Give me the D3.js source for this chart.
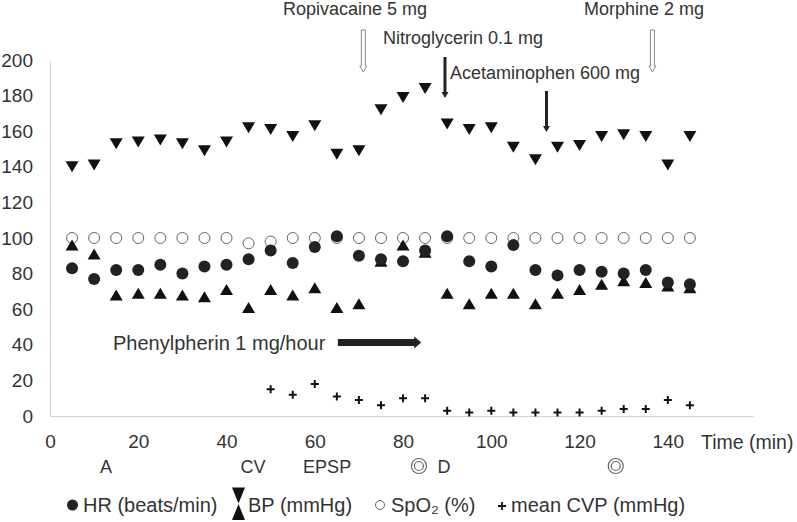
<!DOCTYPE html>
<html>
<head>
<meta charset="utf-8">
<script src="https://cdn.jsdelivr.net/npm/d3@7"></script>
<style>
    body { margin: 0; background: #fff; }
    #chart text { font-family: "Liberation Sans", Arial, sans-serif; fill: #333; }
</style>
</head>
<body>
<div id="chart"></div>
<script>
let times = [5, 10, 15, 20, 25, 30, 35, 40, 45, 50, 55, 60, 65, 70, 75, 80, 85, 90, 95, 100, 105, 110, 115, 120, 125, 130, 135, 140, 145];
let hr = [83, 77, 82, 82, 85, 80, 84, 85, 88, 93, 86, 95, 101, 90, 88, 87, 93, 101, 87, 84, 96, 82, 79, 82, 81, 80, 82, 75, 74];
let bp_sys = [140, 141, 153, 154, 155, 153, 149, 154, 162, 161, 157, 163, 147, 149, 172, 179, 184, 164, 161, 162, 151, 144, 151, 152, 157, 158, 157, 141, 157];
let bp_dia = [96, 91, 68, 69, 69, 68, 67, 71, 61, 71, 68, 72, 61, 63, 87, 96, 92, 69, 63, 69, 69, 63, 69, 71, 74, 76, 75, 73, 72];
let spo2 = [100, 100, 100, 100, 100, 100, 100, 100, 97, 98, 100, 100, 100, 100, 100, 100, 100, 100, 100, 100, 100, 100, 100, 100, 100, 100, 100, 100, 100];
let cvp_times = [50, 55, 60, 65, 70, 75, 80, 85, 90, 95, 100, 105, 110, 115, 120, 125, 130, 135, 140, 145];
let cvp = [15, 12, 18, 11, 9, 6, 10, 10, 3, 2, 3, 2, 2, 2, 2, 3, 4, 4, 9, 6];

let x_ticks = [0, 20, 40, 60, 80, 100, 120, 140];
let y_ticks = [0, 20, 40, 60, 80, 100, 120, 140, 160, 180, 200];

// drugs given: label, time of arrow, arrow style
let bolus = [
    { label: "Ropivacaine 5 mg", time: 71, hollow: true },
    { label: "Nitroglycerin 0.1 mg", time: 89.5, hollow: false },
    { label: "Acetaminophen 600 mg", time: 112.5, hollow: false },
    { label: "Morphine 2 mg", time: 136.5, hollow: true }
];
let infusion = { label: "Phenylpherin 1 mg/hour", start: 65, end: 84 };

// events under the time axis
let events = [
    { label: "A", time: 12.7 },
    { label: "CV", time: 46 },
    { label: "EPSP", time: 62.8 },
    { label: "D", time: 89.3 }
];
let ring_times = [83.6, 128.2];

document.addEventListener("DOMContentLoaded", function(event) {

    let svg = d3.select("#chart")
        .append("svg")
            .attr("width", 797)
            .attr("height", 522);

    let x = d3.scaleLinear().domain([0, 159.3]).range([50, 753]);
    let y = d3.scaleLinear().domain([0, 200]).range([416, 60]);

    let xa = svg.append("g")
        .attr("transform", "translate(0,416)")
        .call(d3.axisBottom(x).tickValues(x_ticks).tickSize(0).tickPadding(19));
    xa.select(".domain").attr("stroke", "#d4d4d4");
    xa.selectAll("text").style("font-size", "19px");

    let ya = svg.append("g")
        .attr("transform", "translate(50,0)")
        .call(d3.axisLeft(y).tickValues(y_ticks).tickSize(0).tickPadding(17));
    ya.select(".domain").attr("stroke", "#d4d4d4");
    ya.selectAll("text").style("font-size", "19px");

    svg.append("text")
        .attr("x", 701)
        .attr("y", 448.5)
        .style("font-size", "19.5px")
        .text("Time (min)");

    // triangle path centred on its box, w wide and h tall
    let tri = function (w, h, down) {
        let s = down ? 1 : -1;
        return "M" + (-w / 2) + "," + (-s * h / 2) + "L" + (w / 2) + "," + (-s * h / 2) + "L0," + (s * h / 2) + "Z";
    };

    let rows = times.map((t, i) => ({ t: t, hr: hr[i], sys: bp_sys[i], dia: bp_dia[i], spo2: spo2[i] }));

    svg.append("g").selectAll("circle")
        .data(rows)
        .enter()
        .append("circle")
            .attr("cx", d => x(d.t))
            .attr("cy", d => y(d.spo2))
            .attr("r", 5.5)
            .attr("fill", "none")
            .attr("stroke", "#666")
            .attr("stroke-width", 1);

    svg.append("g").selectAll("path")
        .data(rows)
        .enter()
        .append("path")
            .attr("transform", d => "translate(" + x(d.t) + "," + y(d.sys) + ")")
            .attr("d", tri(13, 11, true))
            .attr("fill", "#111");

    svg.append("g").selectAll("path")
        .data(rows)
        .enter()
        .append("path")
            .attr("transform", d => "translate(" + x(d.t) + "," + y(d.dia) + ")")
            .attr("d", tri(13, 11, false))
            .attr("fill", "#111");

    svg.append("g").selectAll("circle")
        .data(rows)
        .enter()
        .append("circle")
            .attr("cx", d => x(d.t))
            .attr("cy", d => y(d.hr))
            .attr("r", 6)
            .attr("fill", "#222");

    let cvp_rows = cvp_times.map((t, i) => ({ t: t, v: cvp[i] }));
    svg.append("g").selectAll("path")
        .data(cvp_rows)
        .enter()
        .append("path")
            .attr("transform", d => "translate(" + x(d.t) + "," + y(d.v) + ")")
            .attr("d", "M-4,0H4M0,-4V4")
            .attr("stroke", "#111")
            .attr("stroke-width", 2);

    // bolus arrows + labels
    let label_pos = [
        { tx: 283, ty: 15, top: 30, bottom: 72 },
        { tx: 383, ty: 43.5, top: 57, bottom: 98 },
        { tx: 450, ty: 78.5, top: 91, bottom: 132 },
        { tx: 584, ty: 15, top: 30, bottom: 72 }
    ];
    bolus.forEach(function (b, i) {
        let p = label_pos[i];
        let ax = x(b.time);
        svg.append("text")
            .attr("x", p.tx)
            .attr("y", p.ty)
            .style("font-size", "18px")
            .text(b.label);
        if (b.hollow) {
            let hb = p.bottom - 6;
            svg.append("path")
                .attr("d", "M" + (ax - 2) + "," + p.top + "H" + (ax + 2) + "V" + hb + "H" + (ax + 3.5)
                    + "L" + ax + "," + p.bottom + "L" + (ax - 3.5) + "," + hb + "H" + (ax - 2) + "Z")
                .attr("fill", "#fff")
                .attr("stroke", "#888")
                .attr("stroke-width", 1);
        } else {
            svg.append("line")
                .attr("x1", ax).attr("x2", ax)
                .attr("y1", p.top).attr("y2", p.bottom - 5)
                .attr("stroke", "#222")
                .attr("stroke-width", 3);
            svg.append("path")
                .attr("d", "M" + (ax - 3.5) + "," + (p.bottom - 6) + "H" + (ax + 3.5) + "L" + ax + "," + p.bottom + "Z")
                .attr("fill", "#222");
        }
    });

    // infusion arrow
    let iy = 342.5;
    svg.append("text")
        .attr("x", 113)
        .attr("y", 349.5)
        .style("font-size", "20px")
        .text(infusion.label);
    let x0 = x(infusion.start) + 1, x1 = x(infusion.end) + 0.5;
    svg.append("path")
        .attr("d", "M" + x0 + "," + (iy - 3.5) + "H" + (x1 - 7) + "V" + (iy - 6) + "L" + x1 + "," + iy
            + "L" + (x1 - 7) + "," + (iy + 6) + "V" + (iy + 3.5) + "H" + x0 + "Z")
        .attr("fill", "#222");

    svg.append("g").selectAll("text")
        .data(events)
        .enter()
        .append("text")
            .attr("x", d => x(d.time))
            .attr("y", 473)
            .attr("text-anchor", "middle")
            .style("font-size", "18px")
            .text(d => d.label);

    // double rings in the event row
    ring_times.forEach(function (t) {
        [7.5, 4.5].forEach(function (r) {
            svg.append("circle")
                .attr("cx", x(t))
                .attr("cy", 466)
                .attr("r", r)
                .attr("fill", "none")
                .attr("stroke", "#666")
                .attr("stroke-width", 1.2);
        });
    });

    // legend
    let lg = svg.append("g").attr("transform", "translate(0,505)");
    lg.append("circle").attr("cx", 72.5).attr("cy", 0).attr("r", 5.5).attr("fill", "#222");
    lg.append("text").attr("x", 83).attr("y", 7).style("font-size", "20px").text("HR (beats/min)");
    lg.append("path").attr("transform", "translate(238.5,-9.5)").attr("d", tri(13, 16, true)).attr("fill", "#111");
    lg.append("path").attr("transform", "translate(238.5,7)").attr("d", tri(13, 16, false)).attr("fill", "#111");
    lg.append("text").attr("x", 248).attr("y", 7).style("font-size", "20px").text("BP (mmHg)");
    lg.append("circle").attr("cx", 380).attr("cy", 0).attr("r", 4.5).attr("fill", "none").attr("stroke", "#666");
    lg.append("text").attr("x", 391).attr("y", 7).style("font-size", "20px").text("SpO\u2082 (%)");
    lg.append("path").attr("d", "M498,1H506M502,-3V5").attr("stroke", "#111").attr("stroke-width", 1.8);
    lg.append("text").attr("x", 511).attr("y", 7).style("font-size", "20px").text("mean CVP (mmHg)");

});
</script>
</body>
</html>
